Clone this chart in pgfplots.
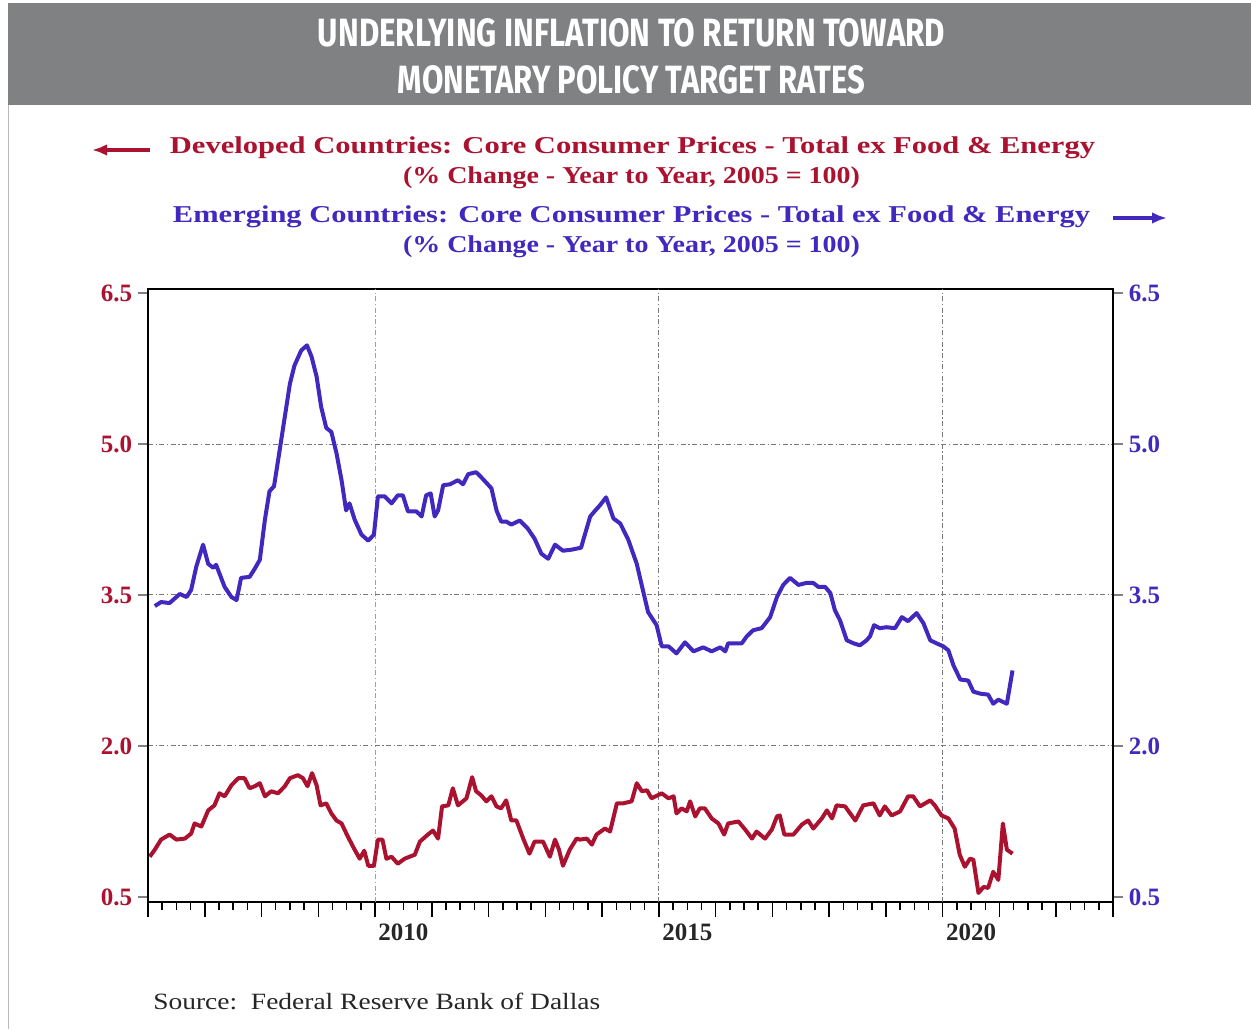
\documentclass[border=0pt]{standalone}
\usepackage{fontspec}
\setmainfont{Liberation Serif}
\newfontfamily\titlefont{Fira Sans}
\usepackage{graphicx}
\usepackage{pgfplots}
\pgfplotsset{compat=1.18}
\usetikzlibrary{arrows.meta}

\definecolor{devred}{RGB}{170,18,48}
\definecolor{emgblue}{RGB}{66,40,190}
\definecolor{bannergray}{RGB}{128,129,131}
\definecolor{gridgray}{RGB}{120,120,120}

\pgfplotstableread{
x y
2006.12 3.39
2006.23 3.43
2006.38 3.42
2006.56 3.51
2006.68 3.48
2006.76 3.55
2006.85 3.78
2006.97 4.00
2007.06 3.81
2007.15 3.77
2007.20 3.80
2007.35 3.58
2007.47 3.48
2007.56 3.45
2007.64 3.67
2007.79 3.68
2007.88 3.76
2007.97 3.85
2008.06 4.25
2008.14 4.53
2008.22 4.58
2008.32 4.94
2008.41 5.27
2008.50 5.60
2008.58 5.78
2008.70 5.93
2008.80 5.98
2008.88 5.87
2008.97 5.67
2009.05 5.37
2009.14 5.16
2009.23 5.12
2009.32 4.91
2009.41 4.64
2009.49 4.34
2009.55 4.41
2009.64 4.25
2009.76 4.10
2009.88 4.04
2009.98 4.10
2010.05 4.48
2010.17 4.48
2010.29 4.41
2010.40 4.49
2010.49 4.49
2010.58 4.33
2010.73 4.33
2010.82 4.28
2010.90 4.49
2010.98 4.51
2011.05 4.28
2011.11 4.34
2011.20 4.59
2011.32 4.60
2011.46 4.64
2011.55 4.60
2011.64 4.70
2011.78 4.72
2011.87 4.67
2012.05 4.56
2012.14 4.34
2012.22 4.23
2012.31 4.23
2012.40 4.20
2012.55 4.24
2012.69 4.16
2012.81 4.06
2012.93 3.91
2013.05 3.86
2013.17 4.00
2013.31 3.94
2013.46 3.95
2013.63 3.97
2013.67 4.05
2013.79 4.28
2013.88 4.34
2013.96 4.39
2014.07 4.47
2014.20 4.26
2014.32 4.21
2014.46 4.05
2014.61 3.81
2014.73 3.52
2014.81 3.33
2014.96 3.20
2015.05 2.99
2015.17 2.99
2015.31 2.92
2015.46 3.03
2015.61 2.94
2015.78 2.98
2015.93 2.94
2016.08 2.98
2016.17 2.94
2016.22 3.02
2016.46 3.02
2016.55 3.09
2016.66 3.15
2016.81 3.17
2016.96 3.28
2017.08 3.48
2017.19 3.60
2017.31 3.67
2017.46 3.60
2017.60 3.62
2017.72 3.62
2017.81 3.58
2017.93 3.58
2018.02 3.52
2018.10 3.35
2018.19 3.25
2018.31 3.05
2018.43 3.02
2018.54 3.00
2018.66 3.05
2018.72 3.09
2018.79 3.20
2018.89 3.17
2019.01 3.18
2019.16 3.17
2019.28 3.28
2019.39 3.24
2019.54 3.32
2019.66 3.22
2019.78 3.05
2019.89 3.02
2020.01 2.99
2020.10 2.95
2020.19 2.80
2020.31 2.66
2020.45 2.65
2020.54 2.54
2020.66 2.52
2020.80 2.51
2020.89 2.42
2020.98 2.46
2021.13 2.42
2021.23 2.75
}\emerging

\pgfplotstableread{
x y
2006.03 0.90
2006.12 0.97
2006.23 1.07
2006.38 1.12
2006.50 1.07
2006.65 1.08
2006.76 1.13
2006.82 1.23
2006.94 1.20
2007.06 1.36
2007.17 1.41
2007.26 1.53
2007.35 1.50
2007.47 1.61
2007.59 1.68
2007.70 1.68
2007.79 1.58
2007.88 1.60
2007.97 1.63
2008.06 1.50
2008.17 1.55
2008.29 1.53
2008.41 1.60
2008.50 1.68
2008.64 1.71
2008.73 1.68
2008.81 1.60
2008.89 1.73
2008.97 1.61
2009.04 1.41
2009.14 1.43
2009.23 1.33
2009.32 1.26
2009.41 1.23
2009.52 1.10
2009.64 0.97
2009.73 0.88
2009.81 0.96
2009.88 0.81
2009.98 0.81
2010.05 1.07
2010.13 1.07
2010.20 0.88
2010.29 0.90
2010.40 0.83
2010.52 0.88
2010.70 0.92
2010.79 1.05
2010.93 1.12
2011.02 1.16
2011.11 1.08
2011.18 1.40
2011.29 1.41
2011.37 1.58
2011.46 1.41
2011.61 1.48
2011.71 1.69
2011.78 1.55
2011.87 1.51
2011.96 1.45
2012.05 1.50
2012.14 1.40
2012.22 1.38
2012.31 1.46
2012.40 1.26
2012.49 1.26
2012.61 1.08
2012.72 0.93
2012.81 1.05
2012.96 1.05
2013.08 0.90
2013.17 1.07
2013.24 0.97
2013.31 0.81
2013.43 0.97
2013.55 1.08
2013.61 1.07
2013.73 1.08
2013.82 1.02
2013.90 1.12
2014.05 1.18
2014.14 1.15
2014.26 1.43
2014.37 1.43
2014.52 1.45
2014.61 1.63
2014.70 1.55
2014.79 1.56
2014.87 1.48
2015.05 1.53
2015.17 1.48
2015.26 1.50
2015.31 1.33
2015.40 1.38
2015.49 1.35
2015.55 1.45
2015.64 1.30
2015.72 1.38
2015.81 1.38
2015.93 1.28
2016.05 1.23
2016.15 1.12
2016.22 1.23
2016.40 1.25
2016.52 1.17
2016.64 1.08
2016.72 1.15
2016.87 1.08
2016.99 1.17
2017.08 1.30
2017.13 1.31
2017.21 1.12
2017.37 1.12
2017.52 1.22
2017.63 1.26
2017.72 1.18
2017.87 1.28
2017.96 1.36
2018.05 1.28
2018.13 1.41
2018.28 1.40
2018.46 1.26
2018.60 1.41
2018.78 1.43
2018.89 1.31
2018.98 1.40
2019.10 1.31
2019.25 1.35
2019.39 1.50
2019.48 1.50
2019.60 1.40
2019.78 1.46
2019.86 1.41
2019.98 1.31
2020.10 1.28
2020.21 1.18
2020.30 0.92
2020.39 0.80
2020.48 0.88
2020.54 0.87
2020.63 0.54
2020.72 0.60
2020.80 0.59
2020.89 0.75
2020.98 0.67
2021.06 1.23
2021.13 0.97
2021.23 0.93
}\developed

\begin{document}
\begin{tikzpicture}[x=0.6pt,y=0.6pt]
\useasboundingbox (0,0) rectangle (1251,1029);
\fill[white] (0,0) rectangle (1251,1029);
% banner
\fill[bannergray] (8,924) rectangle (1251,1026);
\draw[gray!55, line width=0.9pt] (8.5,0) -- (8.5,924);
\node[white, inner sep=0] at (631.5,996) {\resizebox{376.2pt}{16.8pt}{\titlefont\bfseries UNDERLYING INFLATION TO RETURN TOWARD}};
\node[white, inner sep=0] at (631.5,949) {\resizebox{280.2pt}{16.8pt}{\titlefont\bfseries MONETARY POLICY TARGET RATES}};
% legend text
\node[devred, inner sep=0] at (632.5,881) {\resizebox{555pt}{\height}{\fontsize{14.5}{16}\selectfont\bfseries Developed Countries: Core Consumer Prices - Total ex Food \& Energy}};
\node[devred, inner sep=0] at (631.5,851) {\resizebox{274.2pt}{\height}{\fontsize{14.5}{16}\selectfont\bfseries (\% Change - Year to Year, 2005 = 100)}};
\node[emgblue, inner sep=0] at (631.5,812) {\resizebox{550.2pt}{\height}{\fontsize{14.5}{16}\selectfont\bfseries Emerging Countries: Core Consumer Prices - Total ex Food \& Energy}};
\node[emgblue, inner sep=0] at (631.5,782) {\resizebox{274.2pt}{\height}{\fontsize{14.5}{16}\selectfont\bfseries (\% Change - Year to Year, 2005 = 100)}};
\draw[devred, line width=2pt, -{Latex[length=9pt,width=7pt]}] (150,879) -- (92,879);
\draw[emgblue, line width=2pt, -{Latex[length=9pt,width=7pt]}] (1113,811) -- (1167,811);
% source
\node[anchor=west, inner sep=0, black!85] at (153,28) {\resizebox{268.2pt}{\height}{\fontsize{14}{16}\selectfont Source:\ \ Federal Reserve Bank of Dallas}};

% main axis
\begin{axis}[
  at={(88.8pt,76.2pt)}, anchor=south west,
  scale only axis, width=579pt, height=367.8pt,
  xmin=2006, xmax=2023, ymin=0.45, ymax=6.54,
  axis line style={black, line width=1.6pt},
  xtick={2006,...,2023}, xticklabels={},
  minor xtick={2006,2006.25,...,2023},
  xtick pos=bottom, ytick=\empty,
  tick align=outside,
  major tick length=9pt, minor tick length=4.8pt,
  every tick/.style={black, line width=0.9pt},
  extra x ticks={2010.5,2015.5,2020.5},
  extra x tick labels={2010,2015,2020},
  extra x tick style={major tick length=0pt, tick style={draw=none}, x tick label style={yshift=-9.5pt}},
  x tick label style={font=\fontsize{15}{15}\selectfont\bfseries, text=black!85},
  clip=false,
]
\draw[gridgray!70, dash pattern=on 3pt off 1.5pt on 0.8pt off 1.5pt, line width=0.6pt] (axis cs:2010,0.45) -- (axis cs:2010,6.54);
\draw[gridgray, dash pattern=on 3pt off 1.5pt on 0.8pt off 1.5pt, line width=0.6pt] (axis cs:2015,0.45) -- (axis cs:2015,6.54);
\draw[gridgray, dash pattern=on 3pt off 1.5pt on 0.8pt off 1.5pt, line width=0.6pt] (axis cs:2020,0.45) -- (axis cs:2020,6.54);
\draw[gridgray, dash pattern=on 3pt off 1.5pt on 0.8pt off 1.5pt, line width=0.6pt] (axis cs:2006,2) -- (axis cs:2023,2);
\draw[gridgray, dash pattern=on 3pt off 1.5pt on 0.8pt off 1.5pt, line width=0.6pt] (axis cs:2006,3.5) -- (axis cs:2023,3.5);
\draw[gridgray, dash pattern=on 3pt off 1.5pt on 0.8pt off 1.5pt, line width=0.6pt] (axis cs:2006,5) -- (axis cs:2023,5);
\addplot[emgblue, line width=2.4pt, line join=round, no markers] table[x=x,y=y] {\emerging};
\addplot[devred, line width=2.4pt, line join=round, no markers] table[x=x,y=y] {\developed};
\end{axis}

% left y axis
\begin{axis}[
  at={(88.8pt,76.2pt)}, anchor=south west,
  scale only axis, width=579pt, height=367.8pt,
  xmin=2006, xmax=2023, ymin=0.45, ymax=6.54,
  axis x line=none, axis y line*=left,
  axis line style={black, line width=1.6pt, -},
  ytick={0.5,2,3.5,5,6.5}, yticklabels={0.5,2.0,3.5,5.0,6.5},
  tick align=outside, major tick length=6pt,
  every tick/.style={gray, line width=0.8pt},
  y tick label style={font=\fontsize{15}{15}\selectfont\bfseries, text=devred},
]
\end{axis}

% right y axis
\begin{axis}[
  at={(88.8pt,76.2pt)}, anchor=south west,
  scale only axis, width=579pt, height=367.8pt,
  xmin=2006, xmax=2023, ymin=0.45, ymax=6.54,
  axis x line=none, axis y line*=right,
  axis line style={black, line width=1.6pt, -},
  ytick={0.5,2,3.5,5,6.5}, yticklabels={0.5,2.0,3.5,5.0,6.5},
  tick align=outside, major tick length=6pt,
  every tick/.style={gray, line width=0.8pt},
  y tick label style={font=\fontsize{15}{15}\selectfont\bfseries, text=emgblue},
]
\end{axis}
\end{tikzpicture}
\end{document}
